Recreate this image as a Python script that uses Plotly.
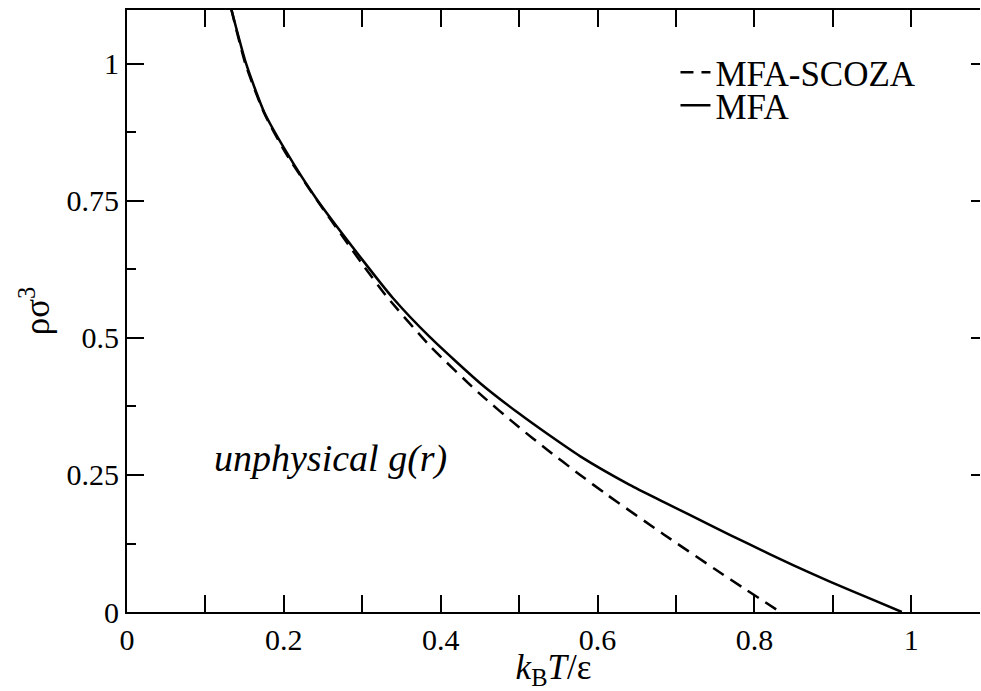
import plotly.graph_objects as go

# MFA-SCOZA (dashed)
scoza_x = [0.133, 0.151, 0.175, 0.203, 0.243, 0.300, 0.331, 0.386, 0.450, 0.500,
           0.535, 0.577, 0.611, 0.684, 0.750, 0.790, 0.833]
scoza_y = [1.100, 1.000, 0.910, 0.836, 0.750, 0.635, 0.576, 0.486, 0.398, 0.337,
           0.297, 0.251, 0.215, 0.142, 0.078, 0.040, 0.000]

# MFA (solid)
mfa_x = [0.133, 0.152, 0.175, 0.203, 0.241, 0.300, 0.339, 0.386, 0.450, 0.500,
         0.535, 0.578, 0.641, 0.684, 0.750, 0.790, 0.850, 0.897, 0.950, 0.988]
mfa_y = [1.100, 1.000, 0.912, 0.840, 0.755, 0.643, 0.573, 0.502, 0.418, 0.362,
         0.326, 0.284, 0.232, 0.201, 0.154, 0.126, 0.085, 0.055, 0.023, 0.000]

x_ticks = [0, 0.2, 0.4, 0.6, 0.8, 1]
x_tick_text = ["0", "0.2", "0.4", "0.6", "0.8", "1"]
y_ticks = [0, 0.25, 0.5, 0.75, 1]
y_tick_text = ["0", "0.25", "0.5", "0.75", "1"]

FONT = "Liberation Serif"

fig = go.Figure()
fig.add_trace(go.Scatter(x=scoza_x, y=scoza_y, mode="lines", name="MFA-SCOZA",
                         legend="legend",
                         line=dict(color="black", width=2.5, dash="13px,8px",
                                   shape="spline", smoothing=0.6)))
fig.add_trace(go.Scatter(x=mfa_x, y=mfa_y, mode="lines", name="MFA",
                         legend="legend2",
                         line=dict(color="black", width=2.5,
                                   shape="spline", smoothing=0.6)))
fig.add_trace(go.Scatter(x=mfa_x, y=mfa_y, mode="lines", yaxis="y2",
                         showlegend=False, hoverinfo="skip",
                         line=dict(color="rgba(0,0,0,0)", width=0)))

fig.add_annotation(x=0.26, y=0.281, xref="x", yref="y",
                   text="<i>unphysical g(r)</i>", showarrow=False,
                   font=dict(family=FONT, size=38, color="black"))

fig.update_layout(
    width=981, height=691,
    margin=dict(l=127, r=1, t=10, b=79),
    font=dict(family=FONT, color="black"),
    showlegend=True,
    legend=dict(x=0.643, y=(612 - 72.5) / 602, xanchor="left", yanchor="middle",
                bgcolor="rgba(0,0,0,0)",
                font=dict(family=FONT, size=35, color="black")),
    legend2=dict(x=0.643, y=(612 - 105.5) / 602, xanchor="left", yanchor="middle",
                 bgcolor="rgba(0,0,0,0)",
                 font=dict(family=FONT, size=35, color="black")),
    xaxis=dict(range=[0, 1.0877], tickvals=x_ticks, ticktext=x_tick_text,
               ticks="inside", ticklen=17, tickwidth=2, tickcolor="black",
               showline=True, linewidth=2, linecolor="black", mirror="allticks",
               showgrid=False, zeroline=False,
               tickfont=dict(family=FONT, size=30, color="black"),
               minor=dict(dtick=0.1, tick0=0, ticks="inside", ticklen=9,
                          tickwidth=2, tickcolor="black", showgrid=False),
               title=dict(text="<i>k</i><sub>B</sub><i>T</i>/ε",
                          font=dict(family=FONT, size=35, color="black"),
                          standoff=2)),
    yaxis=dict(range=[0, 1.0985], tickvals=y_ticks, ticktext=y_tick_text,
               ticks="inside", ticklen=17, tickwidth=2, tickcolor="black",
               showline=True, linewidth=2, linecolor="black", mirror=False,
               showgrid=False, zeroline=False,
               tickfont=dict(family=FONT, size=30, color="black"),
               minor=dict(dtick=0.125, tick0=0, ticks="inside", ticklen=9,
                          tickwidth=2, tickcolor="black", showgrid=False),
               title=dict(text="ρσ<sup>3</sup>",
                          font=dict(family=FONT, size=35, color="black"),
                          standoff=6)),
    yaxis2=dict(range=[0, 1.0985], overlaying="y", side="right",
                tickvals=y_ticks, showticklabels=False,
                ticks="inside", ticklen=9, tickwidth=2, tickcolor="black",
                showline=False, showgrid=False, zeroline=False),
    paper_bgcolor="white", plot_bgcolor="white",
)

fig.write_html("out.html")
